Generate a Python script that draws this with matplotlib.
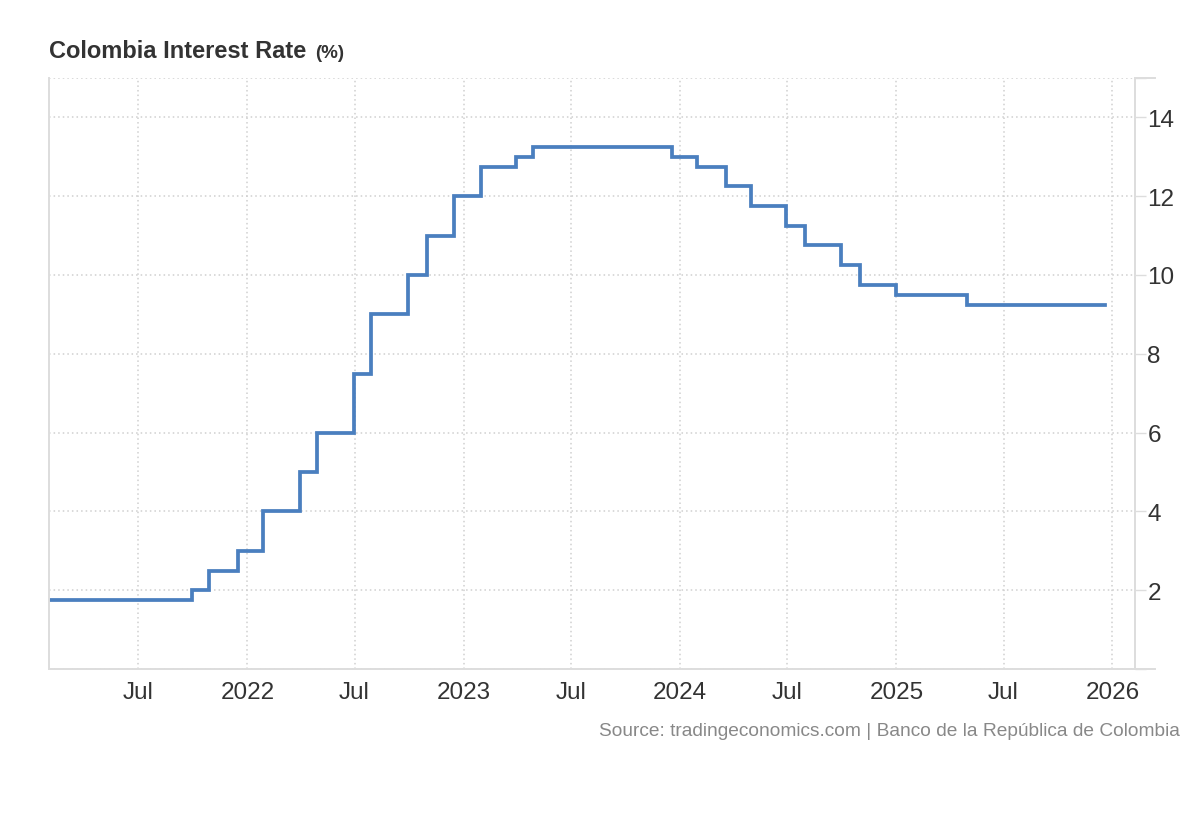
"""
Colombia Interest Rate - step chart in the tradingeconomics style.
"""

import pandas as pd
import matplotlib
matplotlib.use("Agg")
import matplotlib.pyplot as plt

# --- data: policy rate changes (date the new rate took effect, rate %) ---
change_dates = [
    "2021-01-31", "2021-09-30", "2021-10-29", "2021-12-17", "2022-01-28",
    "2022-03-31", "2022-04-29", "2022-06-30", "2022-07-29", "2022-09-30",
    "2022-10-31", "2022-12-16", "2023-01-31", "2023-03-31", "2023-04-28",
    "2023-12-19", "2024-01-31", "2024-03-20", "2024-04-30", "2024-06-28",
    "2024-07-31", "2024-09-30", "2024-10-31", "2024-12-31", "2025-04-30",
    "2025-12-19",
]
rates = [
    1.75, 2.00, 2.50, 3.00, 4.00,
    5.00, 6.00, 7.50, 9.00, 10.00,
    11.00, 12.00, 12.75, 13.00, 13.25,
    13.00, 12.75, 12.25, 11.75, 11.25,
    10.75, 10.25, 9.75, 9.50, 9.25,
    9.25,
]

tick_dates = ["2021-07-01", "2022-01-01", "2022-07-01", "2023-01-01", "2023-07-01",
              "2024-01-01", "2024-07-01", "2025-01-01", "2025-07-01", "2026-01-01"]
tick_labels = ["Jul", "2022", "Jul", "2023", "Jul", "2024", "Jul", "2025", "Jul", "2026"]

y_ticks = [0, 2, 4, 6, 8, 10, 12, 14, 15]
y_labels = ["", "2", "4", "6", "8", "10", "12", "14", ""]

plt.rcParams["font.family"] = ["Liberation Sans", "DejaVu Sans"]

LINE = "#4a7fbf"
GRID = "#cfcfcf"
SPINE = "#dddddd"
TEXT = "#333333"

dates = pd.to_datetime(change_dates)

fig = plt.figure(figsize=(12, 8.2), dpi=100)
ax = fig.add_axes([49 / 1200, 1 - 670 / 820, (1135 - 49) / 1200, (670 - 79) / 820])

ax.step(dates, rates, where="post", color=LINE, linewidth=2.7, solid_joinstyle="miter")

ax.set_xlim(pd.Timestamp("2021-01-31"), pd.Timestamp("2026-02-08"))
ax.set_ylim(0, 15)

ax.set_xticks(pd.to_datetime(tick_dates))
ax.set_xticklabels(tick_labels)
ax.set_yticks(y_ticks)
ax.set_yticklabels(y_labels)

ax.yaxis.tick_right()
ax.tick_params(axis="y", length=8, width=1, color=SPINE, pad=1, labelsize=17.5, labelcolor=TEXT)
ax.tick_params(axis="x", length=0, pad=9, labelsize=17.5, labelcolor=TEXT)

ax.grid(True, color=GRID, linestyle=(0, (1, 2)), linewidth=1.1)
ax.set_axisbelow(True)

for side in ["left", "right", "bottom"]:
    ax.spines[side].set_color(SPINE)
    ax.spines[side].set_linewidth(1.4)
ax.spines["top"].set_visible(False)

# bottom and top lines run a little past the right spine
for yv in [0, 15]:
    ax.plot([1.0, 1.018], [yv, yv], transform=ax.get_yaxis_transform(),
            color=SPINE, linewidth=1.4, clip_on=False)

# --- title and source ---
fig.text(49 / 1200, 1 - 52 / 820, "Colombia Interest Rate", fontsize=17, fontweight="bold",
         color=TEXT, va="center", ha="left")
fig.text(315 / 1200, 1 - 53 / 820, "(%)", fontsize=13.5, fontweight="bold",
         color=TEXT, va="center", ha="left")
fig.text(1180 / 1200, 1 - 732 / 820,
         "Source: tradingeconomics.com | Banco de la República de Colombia",
         fontsize=13.8, color="#888888", va="center", ha="right")

fig.savefig("out.png", dpi=100)
